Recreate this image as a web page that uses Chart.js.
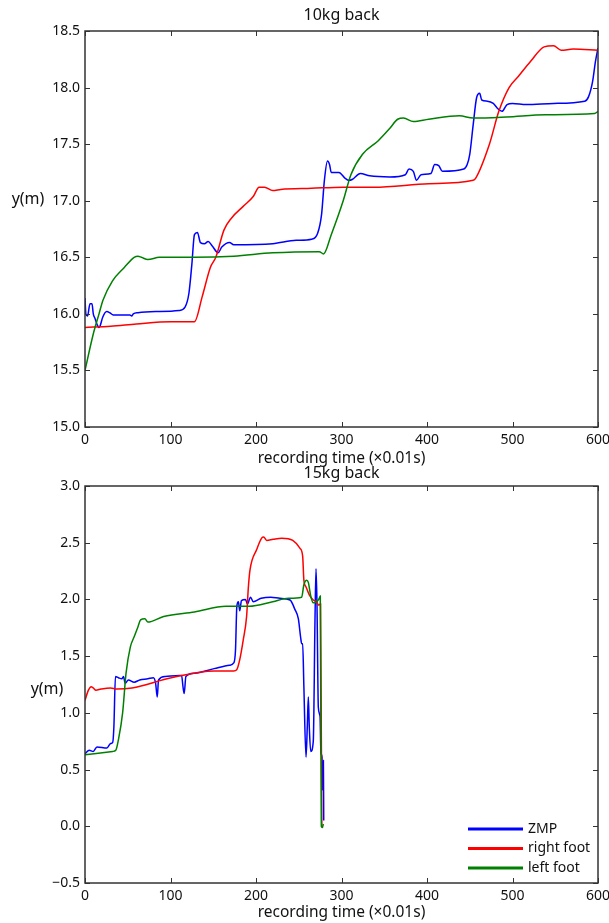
<!DOCTYPE html>
<html>
<head>
<meta charset="utf-8">
<script src="https://cdn.jsdelivr.net/npm/chart.js@4.4.1/dist/chart.umd.min.js"></script>
<style>
  body { margin: 0; background: #fff; }
  canvas { position: absolute; left: 0; }
  #top { top: 0; }
  #bottom { top: 462px; }
</style>
</head>
<body>
<canvas id="top" width="609" height="472"></canvas>
<canvas id="bottom" width="609" height="461"></canvas>
<script>
// series names and x ticks
const seriesNames = ['ZMP', 'right foot', 'left foot']
const seriesColors = ['#0000ff', '#ff0000', '#008000']
const xTicks = [0, 100, 200, 300, 400, 500, 600]

// --- 10kg back ---
const zmp10X = [0, 1, 3, 5.8, 8.2, 9.7, 11.7, 14.4, 16.4, 17.5, 20.7, 25.4, 29, 33, 46, 52.6, 54.6, 56.5, 62, 82.6, 110, 117, 121.5, 125, 128, 131.5, 135, 139.7, 144, 148.8, 155.7, 160, 169, 174, 219.6, 247, 265, 272, 276.7, 280, 283.6, 286, 288, 297, 304, 308.6, 313, 322, 333, 356.6, 374.7, 379, 384, 387.7, 393, 404.6, 409, 413.7, 418, 443, 447, 450, 454, 458, 461.6, 464, 470.6, 477.5, 482, 487.7, 493.6, 500, 516, 548, 584.5, 589, 593.6, 597, 600]
const zmp10Y = [16.14, 16.0, 15.98, 16.09, 16.09, 16.0, 15.96, 15.9, 15.88, 15.89, 15.97, 16.02, 16.01, 15.99, 15.99, 15.99, 15.98, 16.0, 16.01, 16.02, 16.03, 16.06, 16.18, 16.44, 16.7, 16.72, 16.63, 16.62, 16.64, 16.6, 16.54, 16.59, 16.63, 16.61, 16.62, 16.65, 16.66, 16.71, 16.88, 17.18, 17.35, 17.32, 17.25, 17.25, 17.2, 17.18, 17.19, 17.24, 17.22, 17.21, 17.23, 17.28, 17.26, 17.18, 17.23, 17.24, 17.32, 17.31, 17.26, 17.28, 17.32, 17.41, 17.67, 17.91, 17.95, 17.89, 17.88, 17.86, 17.82, 17.79, 17.85, 17.86, 17.85, 17.86, 17.88, 17.92, 18.05, 18.23, 18.35]

const right10X = [0, 30, 60, 100, 128, 137, 146.6, 153, 162.5, 171.7, 185, 197, 203.6, 210, 219.6, 229, 265, 302, 338, 402, 454, 457, 473, 484, 496, 507, 521, 537, 548, 557, 571, 600]
const right10Y = [15.88, 15.89, 15.91, 15.93, 15.93, 16.15, 16.41, 16.5, 16.74, 16.85, 16.95, 17.04, 17.12, 17.12, 17.09, 17.10, 17.11, 17.12, 17.12, 17.15, 17.18, 17.2, 17.5, 17.79, 18.0, 18.1, 18.23, 18.36, 18.37, 18.33, 18.34, 18.33]

const left10X = [0, 9.6, 16.4, 21, 32, 46, 57.5, 62, 66, 73.5, 87, 128, 174, 219.6, 274, 279, 288, 302, 311, 324.6, 343, 356.6, 365.7, 372.6, 384, 402, 438, 454, 493, 539, 596, 600]
const left10Y = [15.5, 15.82, 16.0, 16.12, 16.29, 16.41, 16.5, 16.51, 16.5, 16.48, 16.5, 16.5, 16.51, 16.54, 16.55, 16.53, 16.7, 17.0, 17.23, 17.41, 17.53, 17.64, 17.72, 17.73, 17.70, 17.72, 17.75, 17.73, 17.74, 17.76, 17.77, 17.79]

// --- 15kg back ---
const zmp15X = [0, 5, 9.6, 14, 25.6, 30, 32.4, 33.8, 35.6, 39, 43, 45, 47, 50.7, 57.5, 64, 73.5, 80, 82.6, 84.5, 86, 94, 110, 113, 114.6, 116, 118, 128, 151, 169, 174, 176, 177.6, 179.4, 181, 183, 187.7, 190, 193.6, 196.8, 206, 217.4, 228, 239.8, 245.6, 249.5, 252.3, 253.4, 254.6, 256, 258.5, 260, 261.2, 262.3, 264, 267, 269, 270.2, 271.3, 272.9, 274.9, 276, 277.2, 277.6, 278.8, 279.2]
const zmp15Y = [0.64, 0.67, 0.66, 0.7, 0.69, 0.73, 0.74, 0.88, 1.32, 1.31, 1.3, 1.32, 1.26, 1.29, 1.27, 1.29, 1.3, 1.31, 1.26, 1.14, 1.29, 1.32, 1.33, 1.33, 1.23, 1.17, 1.32, 1.35, 1.39, 1.42, 1.44, 1.55, 1.94, 1.98, 1.9, 1.99, 2.0, 1.96, 2.02, 1.98, 2.01, 2.02, 2.01, 1.995, 1.91, 1.83, 1.66, 1.61, 1.61, 1.23, 0.61, 0.88, 1.14, 0.88, 0.66, 0.75, 1.82, 2.27, 1.97, 1.05, 0.97, 0.64, 0.61, 0.32, 0.58, 0.05]

const right15X = [0, 4, 7.3, 9.6, 12.8, 18.7, 30, 37, 55, 101, 151, 174, 177.4, 181, 185, 189, 191, 193, 200.8, 206.6, 209, 212.5, 220, 230, 243, 251.5, 254.6, 256, 258.5, 262.3, 267, 271, 272.9, 275.5, 277, 278.5]
const right15Y = [1.11, 1.2, 1.23, 1.22, 1.2, 1.21, 1.22, 1.21, 1.22, 1.31, 1.37, 1.37, 1.38, 1.47, 1.64, 1.85, 2.1, 2.26, 2.44, 2.54, 2.55, 2.52, 2.53, 2.54, 2.52, 2.45, 2.38, 2.17, 2.11, 2.04, 1.995, 1.98, 1.95, 1.96, 0.0, -0.01]

const left15X = [0, 32.4, 36, 39, 44, 48, 53, 57.5, 62, 65, 70, 73.5, 92, 128, 165, 174, 192, 219.6, 237.9, 253.4, 256, 259.3, 261.2, 264, 267, 271, 274, 275.2, 276.4, 277.6, 278.8]
const left15Y = [0.63, 0.66, 0.67, 0.76, 1.0, 1.35, 1.58, 1.67, 1.76, 1.82, 1.83, 1.8, 1.85, 1.89, 1.94, 1.94, 1.94, 1.98, 2.01, 2.02, 2.13, 2.17, 2.15, 2.03, 1.97, 1.98, 2.01, 2.03, 0.0, -0.01, 0.02]

const FONT = '"Noto Sans", sans-serif'

function pts(xs, ys) {
    return xs.map((x, i) => ({ x: x, y: ys[i] }))
}

function fmt(v) {
    return v.toFixed(1).replace('-', '\u2212')
}

// box, inward ticks on all sides, horizontal y label, optional legend
const framePlugin = {
    id: 'frame',
    afterDraw(chart, args, opts) {
        const ctx = chart.ctx
        const a = chart.chartArea
        const xs = chart.scales.x
        const ys = chart.scales.y
        ctx.save()
        ctx.strokeStyle = '#333'
        ctx.lineWidth = 1
        ctx.beginPath()
        xs.ticks.forEach(t => {
            const p = Math.round(xs.getPixelForValue(t.value)) + 0.5
            ctx.moveTo(p, a.bottom); ctx.lineTo(p, a.bottom - 5)
            ctx.moveTo(p, a.top); ctx.lineTo(p, a.top + 5)
        })
        ys.ticks.forEach(t => {
            const p = Math.round(ys.getPixelForValue(t.value)) + 0.5
            ctx.moveTo(a.left, p); ctx.lineTo(a.left + 5, p)
            ctx.moveTo(a.right, p); ctx.lineTo(a.right - 5, p)
        })
        ctx.stroke()
        ctx.lineWidth = 1.5
        ctx.strokeRect(a.left, a.top, a.right - a.left, a.bottom - a.top)

        ctx.fillStyle = '#111'
        ctx.font = '16px ' + FONT
        ctx.textAlign = 'center'
        ctx.textBaseline = 'middle'
        ctx.fillText('y(m)', opts.labelX, opts.labelY)

        if (opts.legend) {
            ctx.font = '14px ' + FONT
            ctx.textAlign = 'left'
            chart.data.datasets.forEach((ds, i) => {
                const ly = a.bottom - 54 + i * 19.5
                ctx.strokeStyle = ds.borderColor
                ctx.lineWidth = 3
                ctx.beginPath()
                ctx.moveTo(a.right - 130, ly)
                ctx.lineTo(a.right - 75, ly)
                ctx.stroke()
                ctx.fillStyle = '#111'
                ctx.fillText(ds.label, a.right - 70, ly)
            })
        }
        ctx.restore()
    }
}

function makeChart(id, title, series, yMin, yMax, cfg) {
    const ctx = document.getElementById(id).getContext('2d')
    return new Chart(ctx, {
        type: 'line',
        data: {
            datasets: series.map((s, i) => ({
                label: seriesNames[i],
                data: s,
                borderColor: seriesColors[i],
                borderWidth: 1.5,
                pointRadius: 0,
                fill: false,
                cubicInterpolationMode: 'monotone',
                order: 3 - i
            }))
        },
        options: {
            responsive: false,
            animation: false,
            devicePixelRatio: 1,
            layout: { padding: { left: 0, right: 11, top: 0, bottom: 0 } },
            plugins: {
                legend: { display: false },
                tooltip: { enabled: false },
                title: {
                    display: true,
                    text: title,
                    fullSize: false,
                    color: '#111',
                    font: { family: FONT, size: 16, weight: 'normal' },
                    padding: cfg.titlePad
                },
                frame: { labelX: cfg.labelX, labelY: cfg.labelY, legend: cfg.legend }
            },
            scales: {
                x: {
                    type: 'linear',
                    min: 0,
                    max: 600,
                    afterBuildTicks: s => { s.ticks = xTicks.map(v => ({ value: v })) },
                    grid: { display: false, drawTicks: false },
                    border: { display: false },
                    ticks: {
                        color: '#111',
                        padding: 5,
                        maxRotation: 0,
                        font: { family: FONT, size: 14 },
                        callback: v => String(v)
                    },
                    title: {
                        display: true,
                        text: 'recording time (\u00d70.01s)',
                        color: '#111',
                        font: { family: FONT, size: 15.5 },
                        padding: { top: 0, bottom: cfg.xTitlePad }
                    },
                    afterFit: s => { s.height = cfg.xHeight; s.paddingRight = 0; s.paddingLeft = 0 }
                },
                y: {
                    min: yMin,
                    max: yMax,
                    grid: { display: false, drawTicks: false },
                    border: { display: false },
                    ticks: {
                        stepSize: 0.5,
                        color: '#111',
                        padding: 5,
                        font: { family: FONT, size: 14 },
                        callback: v => fmt(v)
                    },
                    afterFit: s => { s.width = 85; s.paddingTop = 0; s.paddingBottom = 0 }
                }
            }
        },
        plugins: [framePlugin]
    })
}

makeChart('top', '10kg back',
    [pts(zmp10X, zmp10Y), pts(right10X, right10Y), pts(left10X, left10Y)],
    15, 18.5,
    { titlePad: { top: 5.4, bottom: 6.4 }, xHeight: 45, xTitlePad: 4.6, labelX: 28, labelY: 199, legend: false })

makeChart('bottom', '15kg back',
    [pts(zmp15X, zmp15Y), pts(right15X, right15Y), pts(left15X, left15Y)],
    -0.5, 3,
    { titlePad: { top: 1.4, bottom: 3.4 }, xHeight: 40, xTitlePad: 1.6, labelX: 47, labelY: 227, legend: true })
</script>
</body>
</html>
